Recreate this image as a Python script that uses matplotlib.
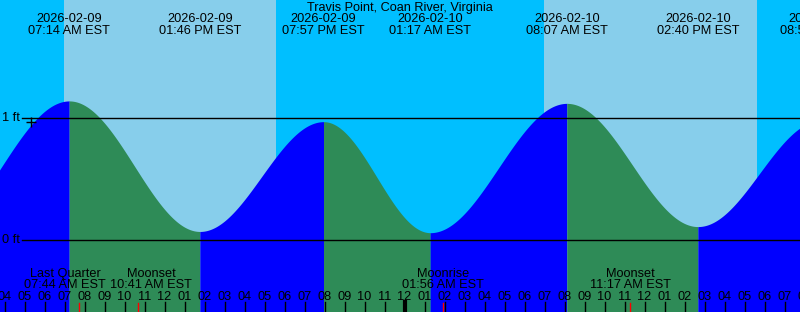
import numpy as np
import pandas as pd
import matplotlib
matplotlib.use("Agg")
import matplotlib.pyplot as plt
from matplotlib.transforms import blended_transform_factory

station = "Travis Point, Coan River, Virginia"
start = pd.Timestamp("2026-02-09 04:00")

# high / low tides (first and last fall outside the visible window)
tide_times = [
    "2026-02-09 00:26", "2026-02-09 07:14", "2026-02-09 13:46",
    "2026-02-09 19:57", "2026-02-10 01:17", "2026-02-10 08:07",
    "2026-02-10 14:40", "2026-02-10 20:50",
]
tide_heights = [0.05, 1.14, 0.07, 0.97, 0.06, 1.12, 0.11, 0.98]

# sunrise, sunset, sunrise, sunset
sun_times = ["2026-02-09 06:58", "2026-02-09 17:35",
             "2026-02-10 06:57", "2026-02-10 17:36"]

moon_names = ["Last Quarter", "Moonset", "Moonrise", "Moonset"]
moon_times = ["2026-02-09 07:44", "2026-02-09 10:41",
              "2026-02-10 01:56", "2026-02-10 11:17"]

now_time = "2026-02-09 05:18"
now_level = 0.97

datum_levels = [1, 0]

NIGHT = "#00bfff"
DAY = "#87ceeb"
RISING = "#0000ff"
FALLING = "#2e8b57"
FONT = "Liberation Sans"
FS = 9.2

W, H = 800, 312


def hours(t):
    return (pd.Timestamp(t) - start) / pd.Timedelta(hours=1)


def fy(p):
    return 1 - p / H


tide_h = np.array([hours(t) for t in tide_times])
sun_h = [hours(t) for t in sun_times]
moon_h = [hours(t) for t in moon_times]

x0 = -4.5 / 20
x1 = (W - 4.5) / 20
y0 = (240 - H) / 122
y1 = 240 / 122

fig = plt.figure(figsize=(W / 100, H / 100), dpi=100)
ax = fig.add_axes([0, 0, 1, 1])
ax.set_xlim(x0, x1)
ax.set_ylim(y0, y1)
ax.axis("off")
tr = blended_transform_factory(ax.transData, ax.transAxes)

# sky
ax.axvspan(x0, x1, color=NIGHT, lw=0)
ax.axvspan(sun_h[0], sun_h[1], color=DAY, lw=0)
ax.axvspan(sun_h[2], sun_h[3], color=DAY, lw=0)

# tide curve, one half-cosine between each pair of extremes
for i in range(len(tide_h) - 1):
    ta, tb = tide_h[i], tide_h[i + 1]
    a, b = tide_heights[i], tide_heights[i + 1]
    t = np.linspace(ta, tb, 400)
    f = (t - ta) / (tb - ta)
    level = a + (b - a) * (1 - np.cos(np.pi * f)) / 2
    ax.fill_between(t, y0, level, color=RISING if b > a else FALLING, lw=0)

# datum lines
for lv in datum_levels:
    ax.axhline(lv, xmin=22 / W, xmax=1, color="black", lw=1)
    ax.text(x0 + 1.5 / 20, lv, f"{lv} ft", fontsize=FS,
            family=FONT, va="center", ha="left")

ax.plot([hours(now_time)], [now_level], marker="+", color="black",
        ms=7, mew=1)

# title and tide labels (skip the tide that lies wholly off the left edge)
ax.text(0.5, fy(7.5), station, transform=ax.transAxes, ha="center",
        va="center", fontsize=FS, family=FONT)
for t, th in zip(tide_times[1:], tide_h[1:]):
    ts = pd.Timestamp(t)
    ax.text(th, fy(19.5), ts.strftime("%Y-%m-%d"), transform=tr,
            ha="center", va="center", fontsize=FS, family=FONT)
    ax.text(th, fy(31.5), ts.strftime("%I:%M %p EST"), transform=tr,
            ha="center", va="center", fontsize=FS, family=FONT)

# moon labels (first two nudged apart so they don't overlap)
moon_shift = [-0.7, 0.65, 0, 0]
for name, t, mh, s in zip(moon_names, moon_times, moon_h, moon_shift):
    ax.text(mh + s, fy(274), name, transform=tr, ha="center",
            va="center", fontsize=FS, family=FONT)
    ax.text(mh + s, fy(285.5), pd.Timestamp(t).strftime("%I:%M %p EST"),
            transform=tr, ha="center", va="center", fontsize=FS, family=FONT)
    ax.plot([mh, mh], [0, fy(303)], color="red", lw=1, transform=tr)

# hour ticks
for h in range(0, 41):
    clock = (4 + h) % 12 or 12
    ax.text(h, fy(297.5), f"{clock:02d}", transform=tr, ha="center",
            va="center", fontsize=FS, family=FONT)
    ax.plot([h, h], [0, fy(302)], color="black", lw=1, transform=tr)
ax.plot([20, 20], [0, fy(302)], color="black", lw=3, transform=tr)

fig.savefig("out.png", dpi=100)
